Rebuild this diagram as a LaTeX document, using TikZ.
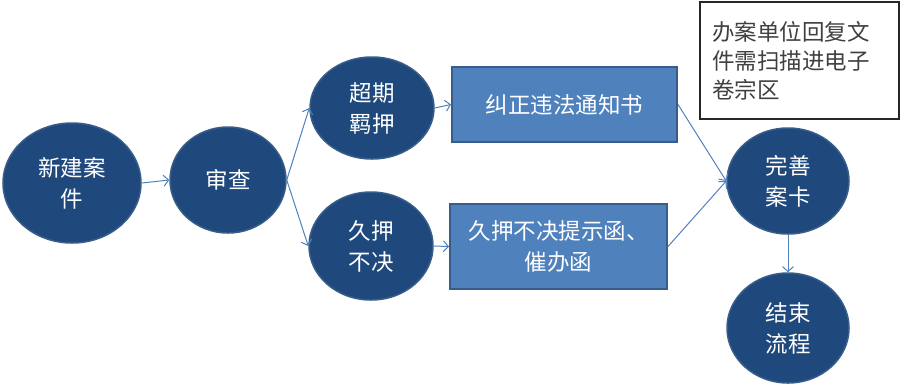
\documentclass[tikz,border=0pt]{standalone}
\usepackage{fontspec}
\setmainfont{Noto Sans CJK SC}
\usetikzlibrary{arrows.meta,shapes.geometric}
\definecolor{navy}{HTML}{1F497D}
\definecolor{navyedge}{HTML}{385D8A}
\definecolor{boxblue}{HTML}{4F81BD}
\definecolor{arrowblue}{HTML}{4F81BD}
\tikzset{
  circ/.style={ellipse, fill=navy, draw=navyedge, line width=1.5pt, text=white, inner sep=0pt,
    font=\fontsize{22.5pt}{31pt}\selectfont, align=center},
  rbox/.style={rectangle, fill=boxblue, draw=navyedge, line width=2pt, text=white, inner sep=0pt,
    font=\fontsize{22.5pt}{31pt}\selectfont, align=center},
  conn/.style={draw=arrowblue, line width=1pt, -{Straight Barb[length=5pt,width=11pt]}},
}
\begin{document}
\begin{tikzpicture}[x=1pt,y=-1pt]
\useasboundingbox (0,0) rectangle (901,384);
\node[circ, minimum width=138pt, minimum height=120pt] (new) at (72,183) {新建案\\件};
\node[circ, minimum width=116pt, minimum height=106pt] (rev) at (228,180) {审查};
\node[circ, minimum width=124pt, minimum height=102pt] (over) at (372,108) {超期\\羁押};
\node[circ, minimum width=124pt, minimum height=108pt] (long) at (371,246) {久押\\不决};
\node[rbox, minimum width=225pt, minimum height=75pt] (fix) at (564.5,104.5) {纠正违法通知书};
\node[rbox, minimum width=217pt, minimum height=85pt, text width=205pt] (hint) at (558.5,246.5) {久押不决提示函、\\催办函};
\node[circ, minimum width=122pt, minimum height=106pt] (card) at (788,181) {完善\\案卡};
\node[circ, minimum width=122pt, minimum height=110pt] (end) at (788,328) {结束\\流程};
\node[rectangle, draw=black!85, line width=1.5pt, fill=white, minimum width=199pt, minimum height=117pt,
  text=black!75, font=\fontsize{22.5pt}{29pt}\selectfont, align=left, text width=175pt, inner sep=0pt] (note) at (799.5,60.5)
  {办案单位回复文\\件需扫描进电子\\卷宗区};
\draw[conn] (new.east) -- (rev.west);
\draw[conn] (rev.east) -- (over.west);
\draw[conn] (rev.east) -- (long.west);
\draw[conn] (over.east) -- (fix.west);
\draw[conn] (long.east) -- (hint.west);
\draw[conn] (fix.east) -- (card.west);
\draw[conn] (hint.east) -- (card.west);
\draw[conn] (card.south) -- (end.north);
\end{tikzpicture}
\end{document}
